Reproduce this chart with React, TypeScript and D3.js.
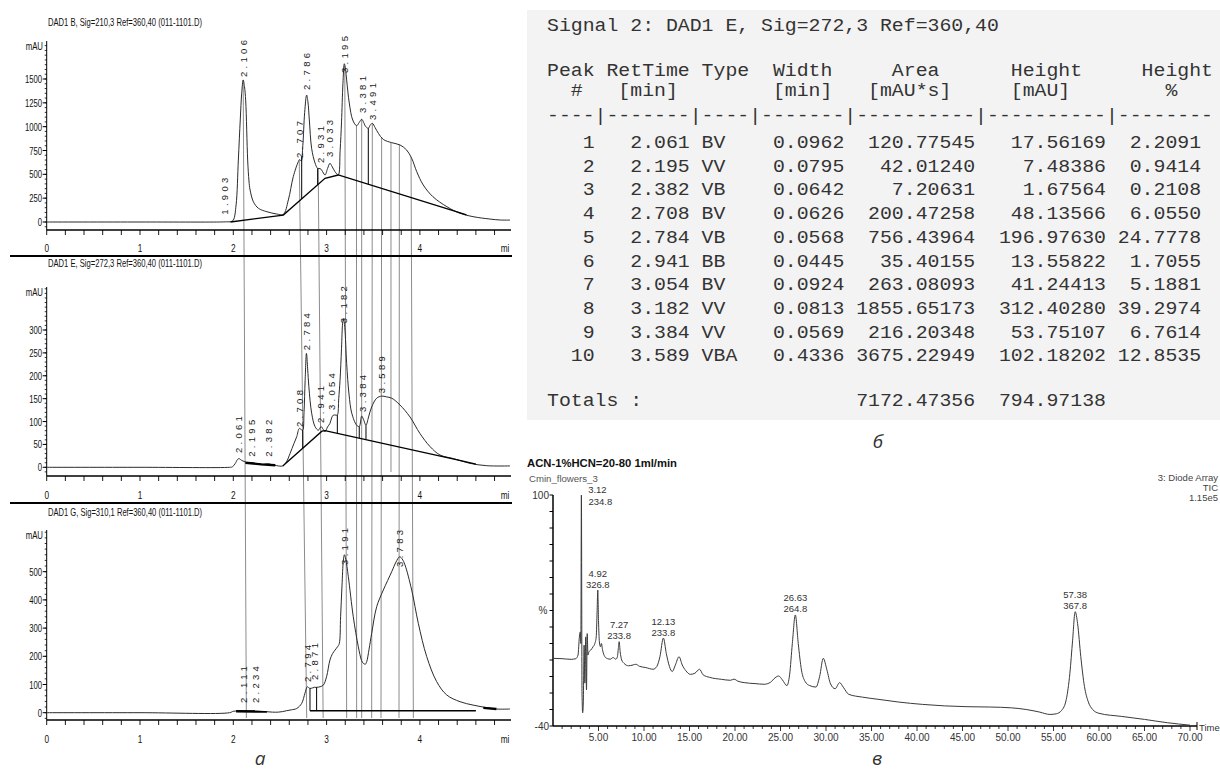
import React from 'react';
import * as d3 from 'd3';

type P = [number, number];

// ---------- а : three DAD signals, [min, mAU]
const sigB: P[] = [[0,0],[1.0,0],[1.85,0],[1.93,2],[1.97,3],[2.0,20],[2.03,180],[2.054,650],[2.075,1080],[2.09,1350],[2.106,1490],[2.12,1420],[2.133,1270],[2.154,650],[2.168,430],[2.18,336],[2.215,213],[2.27,143],[2.36,108],[2.465,84],[2.536,80],[2.59,231],[2.643,476],[2.697,633],[2.712,655],[2.728,640],[2.745,800],[2.765,1150],[2.786,1332],[2.8,1260],[2.815,1070],[2.84,769],[2.876,619],[2.904,563],[2.931,560],[2.947,545],[2.983,493],[3.01,560],[3.036,616],[3.06,580],[3.09,528],[3.125,493],[3.145,750],[3.16,1050],[3.175,1450],[3.19,1660],[3.203,1600],[3.215,1490],[3.243,1248],[3.28,1070],[3.322,1010],[3.35,1045],[3.376,1077],[3.42,1000],[3.447,983],[3.47,1020],[3.491,1035],[3.52,990],[3.555,930],[3.608,866],[3.698,832],[3.787,808],[3.858,755],[3.912,668],[3.966,528],[4.036,388],[4.14,265],[4.29,160],[4.43,91],[4.57,56],[4.75,31],[4.86,21],[4.966,20]];
const baseB: P[][] = [[[1.97,0],[2.536,73],[2.983,458],[3.125,493],[4.39,108],[4.5,75]]];
const boldB: P[][] = [];
const dropB = [2.733, 2.904, 3.447];
const peaksB: P[] = [[1.903,77],[2.106,1521],[2.707,671],[2.786,1385],[2.931,619],[3.033,682],[3.195,1563],[3.381,1143],[3.491,1070]];

const sigE: P[] = [[0,0],[1.0,0],[1.96,0],[1.99,1],[2.02,8],[2.045,17],[2.061,19],[2.09,15],[2.125,12],[2.16,9],[2.195,10],[2.23,8.5],[2.32,6.5],[2.36,7.5],[2.382,7.5],[2.41,6],[2.465,3.6],[2.53,3],[2.57,12],[2.608,30],[2.65,52],[2.68,67],[2.708,85],[2.73,82],[2.744,81],[2.758,120],[2.77,190],[2.784,249],[2.797,215],[2.81,176],[2.84,118],[2.876,89],[2.911,81],[2.941,89],[2.96,84],[2.983,78],[3.01,88],[3.036,96],[3.054,108],[3.072,114],[3.1,114],[3.115,114],[3.13,150],[3.144,190],[3.16,260],[3.172,315],[3.182,325],[3.195,305],[3.215,227],[3.24,160],[3.27,118],[3.322,92],[3.35,89],[3.376,112],[3.395,105],[3.422,92],[3.45,110],[3.483,132],[3.537,151],[3.59,155.6],[3.64,154],[3.698,151],[3.787,136],[3.894,110],[4.0,74],[4.11,45],[4.215,27],[4.36,19],[4.535,8.7],[4.716,3.5],[4.966,3]];
const baseE: P[][] = [[[2.53,3],[2.95,79],[2.983,80],[4.45,14],[4.6,7]]];
const boldE: P[][] = [[[2.13,10],[2.3,6.5],[2.45,4.5]]];
const dropE = [2.744, 3.115, 3.35, 3.422];
const peaksE: P[] = [[2.061,31],[2.195,23],[2.382,23],[2.708,88],[2.784,256],[2.941,97],[3.054,125],[3.182,315],[3.384,121],[3.589,162]];

const sigG: P[] = [[0,0],[1.0,0],[1.96,0],[2.0,5],[2.05,6],[2.111,7],[2.17,6],[2.234,6.5],[2.3,5],[2.358,3.5],[2.42,2],[2.483,2],[2.53,4],[2.57,7],[2.62,10],[2.68,15],[2.733,33],[2.768,69],[2.793,92],[2.81,88],[2.822,86],[2.85,88],[2.871,90],[2.893,90],[2.93,92],[2.965,98],[3.0,128],[3.036,187],[3.065,210],[3.09,222],[3.12,235],[3.136,245],[3.15,340],[3.165,450],[3.18,541],[3.191,560],[3.205,545],[3.233,482],[3.286,340],[3.34,234],[3.375,185],[3.394,175],[3.415,172],[3.43,181],[3.455,225],[3.483,281],[3.537,376],[3.608,435],[3.698,500],[3.745,535],[3.783,553],[3.81,545],[3.84,524],[3.912,435],[3.983,317],[4.073,199],[4.18,110],[4.287,63],[4.43,39],[4.57,27],[4.716,18],[4.82,13],[4.966,13]];
const baseG: P[][] = [[[2.822,7],[4.6,7]]];
const boldG: P[][] = [[[2.03,5],[2.36,4]],[[4.68,17],[4.82,13]]];
const dropG = [2.822, 2.893];
const peaksG: P[] = [[2.111,34],[2.234,34],[2.794,109],[2.871,116],[3.191,524],[3.783,517]];

const ticksB = [0, 250, 500, 750, 1000, 1250, 1500];
const ticksE = [0, 50, 100, 150, 200, 250, 300];
const ticksG = [0, 100, 200, 300, 400, 500];
const minLabels = [0, 1, 2, 3, 4];

// guide lines across the three panels: [min in top panel, min at bottom of panel 3]
const guides: P[] = [[2.106,2.14],[2.707,2.787],[2.91,2.963],[3.195,3.215],[3.32,3.322],[3.376,3.376],[3.49,3.483],[3.59,3.583],[3.78,3.776],[3.905,3.93]];
const shortGuides = [3.69];

// ---------- б : integration report
const signalLine = 'Signal 2: DAD1 E, Sig=272,3 Ref=360,40';
const head1 = 'Peak RetTime Type  Width     Area      Height     Height';
const head2 = '  #   [min]        [min]   [mAU*s]     [mAU]        %';
const dashes = '----|-------|----|-------|----------|----------|--------';
const retTimes = [2.061, 2.195, 2.382, 2.708, 2.784, 2.941, 3.054, 3.182, 3.384, 3.589];
const types = ['BV', 'VV', 'VB', 'BV', 'VB', 'BB', 'BV', 'VV', 'VV', 'VBA'];
const widths = [0.0962, 0.0795, 0.0642, 0.0626, 0.0568, 0.0445, 0.0924, 0.0813, 0.0569, 0.4336];
const areas = [120.77545, 42.0124, 7.20631, 200.47258, 756.43964, 35.40155, 263.08093, 1855.65173, 216.20348, 3675.22949];
const heights = [17.56169, 7.48386, 1.67564, 48.13566, 196.9763, 13.55822, 41.24413, 312.4028, 53.75107, 102.18202];
const heightPct = [2.2091, 0.9414, 0.2108, 6.055, 24.7778, 1.7055, 5.1881, 39.2974, 6.7614, 12.8535];
const totalArea = 7172.47356;
const totalHeight = 794.97138;

// ---------- в : LC trace, [min, %]
const sigV: P[] = [[0,1.0],[1.0,0.8],[2.0,0.4],[2.5,0.8],[2.75,3],[2.9,14],[3.0,17],[3.06,10],[3.12,100],[3.19,-20],[3.26,-32],[3.33,-26],[3.42,9],[3.5,-14],[3.6,14],[3.68,-18],[3.76,16],[3.84,3],[3.95,5],[4.15,6],[4.4,8],[4.6,10],[4.75,14],[4.85,30],[4.92,42.4],[5.0,24],[5.1,11],[5.22,8],[5.32,10],[5.45,6],[5.7,2],[6.0,0.8],[6.3,0.5],[6.6,1.5],[6.9,0.5],[7.08,2],[7.18,7],[7.27,11.1],[7.38,5],[7.55,0],[7.8,-2],[8.3,-3.5],[8.8,-3],[9.1,-2.6],[9.5,-3.8],[10.2,-4.6],[11.0,-5.6],[11.4,-4],[11.75,2],[12.13,13.3],[12.45,4],[12.8,-4],[13.1,-7],[13.45,-3],[13.85,2],[14.2,-3],[14.6,-6.5],[15.1,-8.7],[15.6,-8],[16.1,-5.6],[16.5,-9],[17.2,-10.5],[18.5,-11.7],[19.5,-12.3],[19.9,-11.6],[20.3,-12.8],[21.0,-13.7],[22.2,-14.3],[23.2,-14.7],[23.9,-13.5],[24.4,-10.8],[24.8,-9.7],[25.2,-12],[25.7,-15.5],[26.0,-9],[26.3,10],[26.63,27.3],[26.95,10],[27.3,-6],[27.7,-13],[28.2,-15.5],[28.9,-16.4],[29.3,-10],[29.7,1.0],[30.1,-6],[30.5,-14.5],[31.0,-17.4],[31.5,-13.7],[31.9,-16.5],[32.5,-20.8],[34.0,-22.5],[35.7,-23.8],[38,-25.5],[40.6,-26.9],[43,-27.8],[45.5,-28.3],[48,-28.5],[50.4,-29],[52.0,-30],[53.5,-31.6],[54.6,-33],[55.3,-32.6],[55.9,-30.5],[56.4,-24],[56.8,-8],[57.1,12],[57.38,29.3],[57.65,22],[58.0,2],[58.4,-16],[58.8,-25],[59.3,-30],[60.0,-32.3],[62.5,-34.2],[65.0,-36],[67.5,-38],[70.0,-39.5]];
const peaksV: P[] = [[3.12,234.8],[4.92,326.8],[7.27,233.8],[12.13,233.8],[26.63,264.8],[57.38,367.8]];
const timeLabels = [5,10,15,20,25,30,35,40,45,50,55,60,65,70];
const pctLabels = [100, -40];
const detectorLines = ['3: Diode Array', 'TIC', '1.15e5'];

const SANS = "'Liberation Sans', Arial, sans-serif";
const ITAL = "'Open Sans', 'Noto Sans', sans-serif";

function NT({ x, y, s, anchor = 'start', fs = 11, sx = 0.72, fill = '#111' }: any) {
  return (
    <text transform={`translate(${x},${y}) scale(${sx},1)`} textAnchor={anchor} fontSize={fs}
      fill={fill} fontFamily={SANS} dominantBaseline="central">{s}</text>
  );
}

const interp = (pts: P[]) => d3.scaleLinear().domain(pts.map(d => d[0])).range(pts.map(d => d[1])).clamp(true);

export default function App() {
  const X0 = 46.7;
  const xA = d3.scaleLinear().domain([0, 5]).range([X0, X0 + 5 * 93.3]);

  const panels = [
    { title: 'DAD1 B, Sig=210,3 Ref=360,40 (011-1101.D)', sig: sigB, base: baseB, bold: boldB, drops: dropB, peaks: peaksB, ticks: ticksB, minor: 50,
      y: d3.scaleLinear().domain([0, 1500]).range([222, 79]), top: 41, axisY: 230, labY: 248, titleY: 22, sep: 256 },
    { title: 'DAD1 E, Sig=272,3 Ref=360,40 (011-1101.D)', sig: sigE, base: baseE, bold: boldE, drops: dropE, peaks: peaksE, ticks: ticksE, minor: 10,
      y: d3.scaleLinear().domain([0, 300]).range([467.3, 330]), top: 287, axisY: 476, labY: 495, titleY: 263, sep: 503 },
    { title: 'DAD1 G, Sig=310,1 Ref=360,40 (011-1101.D)', sig: sigG, base: baseG, bold: boldG, drops: dropG, peaks: peaksG, ticks: ticksG, minor: 20,
      y: d3.scaleLinear().domain([0, 500]).range([712.7, 571.7]), top: 530, axisY: 720, labY: 739, titleY: 512, sep: 0 },
  ];

  const xTicks = d3.range(0, 4.81, 0.2);
  const topY = panels[0].y;
  const topInterp = interp(sigB);

  // table
  const CW = 11.9, FS = 17.5, SX = CW / (0.6 * FS), TX = 547;
  const rows = retTimes.map((rt, i) =>
    String(i + 1).padStart(4) + ' ' + rt.toFixed(3).padStart(7) + ' ' + types[i].padEnd(4) + ' ' +
    widths[i].toFixed(4).padStart(7) + ' ' + areas[i].toFixed(5).padStart(10) + ' ' +
    heights[i].toFixed(5).padStart(10) + ' ' + heightPct[i].toFixed(4).padStart(7));
  const totals = 'Totals :'.padEnd(26) + totalArea.toFixed(5).padStart(10) + ' ' + totalHeight.toFixed(5).padStart(10);
  const Mono = ({ y, s }: any) => (
    <text transform={`translate(${TX},${y + 6}) scale(${SX},1)`} fontFamily="'Liberation Mono', 'DejaVu Sans Mono', monospace"
      fontSize={FS} fill="#333" xmlSpace="preserve" style={{ whiteSpace: 'pre' }}>{s}</text>
  );

  // в
  const xV = d3.scaleLinear().domain([0, 70]).range([553, 1190]);
  const yV = d3.scaleLinear().domain([-40, 100]).range([726, 495]);
  const vInterp = interp(sigV);
  const lineV = d3.line<P>().x(d => xV(d[0])).y(d => yV(d[1])).curve(d3.curveMonotoneX);

  return (
    <svg width={1220} height={772} style={{ position: 'absolute', left: 0, top: 0, background: '#fff' }}>
      <rect x={0} y={0} width={1220} height={772} fill="#fff" />

      {/* guide lines */}
      {guides.map(([t1, t2], i) => (
        <line key={'g' + i} x1={xA(t1)} y1={topY(topInterp(t1))} x2={xA(t2)} y2={718} stroke="#8c8c8c" strokeWidth={1} />
      ))}
      {shortGuides.map((t, i) => (
        <line key={'sg' + i} x1={xA(t)} y1={topY(topInterp(t))} x2={xA(t)} y2={472} stroke="#8c8c8c" strokeWidth={1} />
      ))}

      {panels.map((p, pi) => {
        const line = d3.line<P>().x(d => xA(d[0])).y(d => p.y(d[1])).curve(d3.curveCatmullRom.alpha(0.5));
        const lin = d3.line<P>().x(d => xA(d[0])).y(d => p.y(d[1]));
        const sI = interp(p.sig);
        const bI = p.base.length ? interp(p.base[0]) : null;
        const maxV = p.y.invert(p.top);
        const minorT = d3.range(-p.minor, maxV, p.minor).filter(v => p.y(v) <= p.axisY && p.y(v) >= p.top);
        return (
          <g key={'p' + pi}>
            <text x={48} y={p.titleY} textLength={154} lengthAdjust="spacingAndGlyphs" fontSize={10.5}
              fontFamily={SANS} fill="#111" dominantBaseline="central">{p.title}</text>
            <NT x={43} y={p.top + 6} s="mAU" anchor="end" fs={10} sx={0.78} />
            <line x1={X0} x2={X0} y1={p.top} y2={p.axisY} stroke="#000" strokeWidth={1} />
            {minorT.map(v => <line key={'m' + v} x1={X0 - 2} x2={X0} y1={p.y(v)} y2={p.y(v)} stroke="#000" strokeWidth={0.8} />)}
            {p.ticks.map(v => (
              <g key={'t' + v}>
                <line x1={X0 - 4} x2={X0} y1={p.y(v)} y2={p.y(v)} stroke="#000" />
                <NT x={42} y={p.y(v)} s={String(v)} anchor="end" fs={11} sx={0.7} />
              </g>
            ))}
            <line x1={X0} x2={511} y1={p.axisY} y2={p.axisY} stroke="#000" strokeWidth={1.6} />
            {xTicks.map((t, i) => <line key={'x' + i} x1={xA(t)} x2={xA(t)} y1={p.axisY} y2={p.axisY + 5} stroke="#000" strokeWidth={0.9} />)}
            {minLabels.map(t => <NT key={'l' + t} x={xA(t)} y={p.labY} s={String(t)} anchor="middle" fs={11} sx={0.75} />)}
            <NT x={505} y={p.labY} s="mi" anchor="middle" fs={11} sx={0.75} />
            {p.sep ? <line x1={10} x2={512} y1={p.sep} y2={p.sep} stroke="#000" strokeWidth={2} /> : null}

            <path d={line(p.sig) || ''} fill="none" stroke="#2b2b2b" strokeWidth={1} />
            {p.base.map((b, i) => <path key={'b' + i} d={lin(b) || ''} fill="none" stroke="#000" strokeWidth={1.3} />)}
            {p.bold.map((b, i) => <path key={'bb' + i} d={lin(b) || ''} fill="none" stroke="#000" strokeWidth={2.4} />)}
            {bI && p.drops.map((t, i) => (
              <line key={'d' + i} x1={xA(t)} x2={xA(t)} y1={p.y(sI(t))} y2={p.y(bI(t))} stroke="#000" strokeWidth={1} />
            ))}
            {p.peaks.map(([t, v], i) => (
              <text key={'pk' + i} transform={`translate(${xA(t) + 3.4},${p.y(v)}) rotate(-90)`} fontSize={9.5}
                fontFamily={SANS} fill="#1a1a1a" textLength={37} lengthAdjust="spacing">{t.toFixed(3)}</text>
            ))}
          </g>
        );
      })}
      <text x={260} y={765} textAnchor="middle" fontSize={19} fontStyle="italic" fill="#333" fontFamily={ITAL}>а</text>

      {/* б */}
      <rect x={527} y={10} width={693} height={410} fill="#f3f3f3" />
      <Mono y={25} s={signalLine} />
      <Mono y={70} s={head1} />
      <Mono y={90} s={head2} />
      <Mono y={115} s={dashes} />
      {rows.map((r, i) => <Mono key={'r' + i} y={142 + 23.7 * i} s={r} />)}
      <Mono y={400} s={totals} />
      <text x={878} y={448} textAnchor="middle" fontSize={19} fontStyle="italic" fill="#333" fontFamily={ITAL}>б</text>

      {/* в */}
      <text x={527} y={463} fontSize={11} fontWeight="bold" fontFamily={SANS} fill="#111" textLength={150}
        lengthAdjust="spacingAndGlyphs" dominantBaseline="central">ACN-1%HCN=20-80 1ml/min</text>
      <text x={529} y={478} fontSize={9.6} fontFamily={SANS} fill="#555" dominantBaseline="central">Cmin_flowers_3</text>
      {detectorLines.map((s, i) => (
        <text key={'dl' + i} x={1218} y={477 + 10 * i} fontSize={9.5} fontFamily={SANS} fill="#444" textAnchor="end" dominantBaseline="central">{s}</text>
      ))}

      <line x1={553} x2={553} y1={495} y2={726} stroke="#000" strokeWidth={1.5} />
      {d3.range(-40, 101, 10).map(v => <line key={'vy' + v} x1={549.5} x2={553} y1={yV(v)} y2={yV(v)} stroke="#000" strokeWidth={1} />)}
      {pctLabels.map(v => (
        <text key={'vl' + v} x={549} y={yV(v)} fontSize={10} fontFamily={SANS} fill="#333" textAnchor="end" dominantBaseline="central">{v}</text>
      ))}
      <text x={543} y={yV(30)} fontSize={10} fontFamily={SANS} fill="#333" textAnchor="middle" dominantBaseline="central">%</text>
      <line x1={553} x2={1197} y1={726} y2={726} stroke="#000" strokeWidth={1.5} />
      <line x1={1197} x2={1197} y1={722} y2={730} stroke="#000" strokeWidth={1} />
      {d3.range(1, 71).map(t => (
        <line key={'vx' + t} x1={xV(t)} x2={xV(t)} y1={726} y2={t % 5 === 0 ? 731 : 729} stroke="#000" strokeWidth={0.8} />
      ))}
      {timeLabels.map(t => (
        <text key={'tl' + t} x={xV(t)} y={737} fontSize={10} fontFamily={SANS} fill="#333" textAnchor="middle" dominantBaseline="central">{t.toFixed(2)}</text>
      ))}
      <text x={1199} y={727} fontSize={9.5} fontFamily={SANS} fill="#333" dominantBaseline="central">Time</text>

      <path d={lineV(sigV) || ''} fill="none" stroke="#3a3a3a" strokeWidth={1} />
      {peaksV.map(([t, wl], i) => {
        const py = yV(vInterp(t));
        const atTop = vInterp(t) > 90;
        const lx = atTop ? xV(t) + 16 : xV(t);
        return (
          <g key={'pv' + i} fontSize={9.5} fontFamily={SANS} fill="#333" textAnchor="middle">
            <text x={lx} y={atTop ? py - 6 : py - 17} dominantBaseline="central">{t.toFixed(2)}</text>
            <text x={lx + (atTop ? 3 : 0)} y={atTop ? py + 6 : py - 6} dominantBaseline="central">{wl.toFixed(1)}</text>
          </g>
        );
      })}
      <text x={877} y={765} textAnchor="middle" fontSize={19} fontStyle="italic" fill="#333" fontFamily={ITAL}>в</text>
    </svg>
  );
}
